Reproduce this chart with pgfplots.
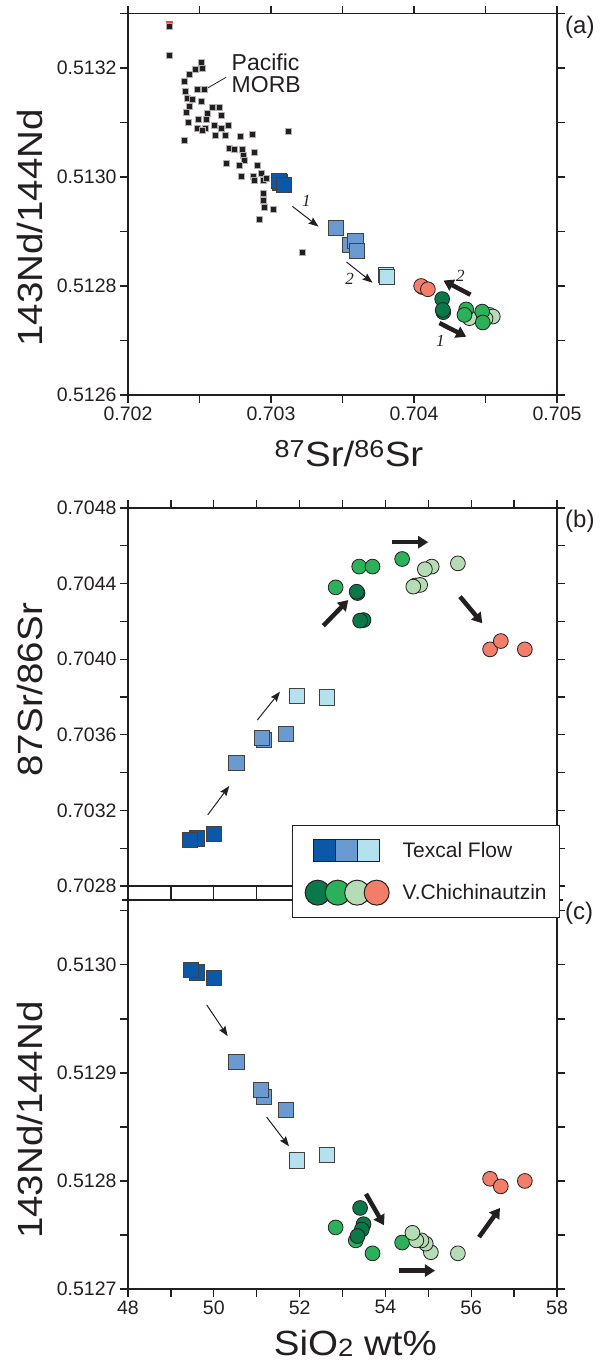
\documentclass[border=0pt]{standalone}
\usepackage{pgfplots}
\pgfplotsset{compat=1.18}
\usetikzlibrary{arrows.meta}
\usepackage{fontspec}
\setmainfont{Liberation Sans}
\newfontfamily\annfont{Liberation Serif}
\newfontfamily\labfont{Liberation Sans}[FakeStretch=1.1]

\definecolor{ink}{HTML}{231F20}
\definecolor{tfdark}{HTML}{0B57A8}
\definecolor{tfmid}{HTML}{6A9AD0}
\definecolor{tflight}{HTML}{B3E1EE}
\definecolor{vcdark}{HTML}{0A7848}
\definecolor{vcmid}{HTML}{2DB05A}
\definecolor{vclight}{HTML}{B6DCB5}
\definecolor{vcsalmon}{HTML}{F27D69}

\pgfplotsset{
  panel/.style={
    scale only axis, width=429bp, clip=false, scaled ticks=false,
    axis line style={line width=1.3bp, draw=ink},
    every tick/.style={line width=1.3bp, draw=ink},
    major tick length=8bp, minor tick length=8bp, tick align=outside,
    tick label style={font=\fontsize{19.5bp}{23bp}\selectfont, text=ink},
    label style={font=\labfont\fontsize{35bp}{40bp}\selectfont, text=ink},
  },
  morb/.style={only marks, mark=square*, mark size=3bp, draw=gray!60, fill=ink, line width=0.6bp, forget plot},
  tf/.style={only marks, mark=square*, mark size=7.6bp, draw=ink!85, line width=0.9bp, forget plot},
  vc/.style={only marks, mark=*, mark size=7.4bp, draw=ink, line width=0.8bp, forget plot},
}
\tikzset{
  thinarrow/.style={draw=ink, line width=1bp, -{Stealth[length=10bp,width=7.5bp,inset=1.5bp]}},
  thickarrow/.style={draw=ink, line width=4.5bp, -{Triangle[length=10bp,width=12bp]}},
  num/.style={font=\annfont\itshape\fontsize{17bp}{20bp}\selectfont, text=ink},
  tag/.style={font=\fontsize{24bp}{28bp}\selectfont, text=ink, anchor=north west, inner sep=0pt},
}
\newcommand{\tl}[1]{\textnormal{#1}}
% frame edges that run a little past each corner
\newcommand{\spines}{%
  \draw[ink, line width=1.3bp]
    ([xshift=-6bp]rel axis cs:0,0) -- ([xshift=6bp]rel axis cs:1,0)
    ([xshift=-6bp]rel axis cs:0,1) -- ([xshift=6bp]rel axis cs:1,1)
    ([yshift=-6bp]rel axis cs:0,0) -- ([yshift=6bp]rel axis cs:0,1)
    ([yshift=-6bp]rel axis cs:1,0) -- ([yshift=6bp]rel axis cs:1,1);}

\begin{document}
\begin{tikzpicture}
\path[use as bounding box] (0,0) rectangle (610bp,1366bp);

% ---------------- (a) Nd vs Sr isotopes ----------------
\begin{axis}[panel, at={(128bp,971bp)}, anchor=south west, height=381.5bp,
  xmin=0.702, xmax=0.705, ymin=0.5126, ymax=0.5133,
  xtick={0.702,0.703,0.704,0.705},
  xticklabels={\tl{0.702},\tl{0.703},\tl{0.704},\tl{0.705}},
  minor xtick={0.7025,0.7035,0.7045},
  ytick={0.5126,0.5128,0.5130,0.5132},
  yticklabels={\tl{0.5126},\tl{0.5128},\tl{0.5130},\tl{0.5132}},
  minor ytick={0.5127,0.5129,0.5131,0.5133},
  xlabel={\textsuperscript{87}Sr/\textsuperscript{86}Sr},
  ylabel={143Nd/144Nd},
  xlabel style={at={(rel axis cs:0.515,-0.188)}, anchor=base},
  ylabel style={at={(rel axis cs:-0.2284,0.438)}, anchor=center},
]
\spines
% Pacific MORB field
\addplot[morb, draw=red!75, fill=red!75] coordinates {(0.702290,0.513280)};
\addplot[morb] coordinates {
(0.702290,0.513276) (0.702290,0.513224) (0.702512,0.513210) (0.702472,0.513198)
(0.702523,0.513200) (0.702430,0.513189) (0.702395,0.513175) (0.702535,0.513161)
(0.702488,0.513160) (0.702402,0.513158) (0.702418,0.513144) (0.702449,0.513143)
(0.702512,0.513138) (0.702430,0.513130) (0.702589,0.513128) (0.702640,0.513127)
(0.702407,0.513119) (0.702558,0.513116) (0.702652,0.513114) (0.702493,0.513106)
(0.702551,0.513105) (0.702423,0.513100) (0.702703,0.513095) (0.702484,0.513089)
(0.702542,0.513090) (0.702605,0.513094) (0.702652,0.513089) (0.702523,0.513085)
(0.702395,0.513067) (0.702610,0.513077) (0.702682,0.513077) (0.702785,0.513074)
(0.702868,0.513078) (0.703118,0.513083) (0.702710,0.513053) (0.702745,0.513050)
(0.702799,0.513051) (0.702885,0.513045) (0.702803,0.513040) (0.702815,0.513031)
(0.702687,0.513026) (0.702775,0.513022) (0.702903,0.513022) (0.702792,0.513001)
(0.702873,0.513002) (0.702931,0.513007) (0.702885,0.512994) (0.702943,0.512994)
(0.702966,0.512998) (0.702948,0.512970) (0.702948,0.512958) (0.702955,0.512944)
(0.703013,0.512941) (0.702920,0.512923) (0.703218,0.512861)
};
% Texcal Flow
\addplot[tf, fill=tfdark] coordinates {(0.703062,0.512990) (0.703055,0.512992) (0.703088,0.512986)};
\addplot[tf, fill=tfmid] coordinates {(0.703456,0.512907) (0.703550,0.512875) (0.703591,0.512883) (0.703600,0.512865)};
\addplot[tf, fill=tflight] coordinates {(0.703806,0.512820) (0.703813,0.512816)};
% V. Chichinautzin
\addplot[vc, fill=vclight] coordinates {(0.704528,0.512747) (0.704551,0.512744) (0.704388,0.512741) (0.704500,0.512740)};
\addplot[vc, fill=vcmid] coordinates {(0.704365,0.512757) (0.704353,0.512747) (0.704477,0.512753) (0.704481,0.512733)};
\addplot[vc, fill=vcdark] coordinates {(0.704205,0.512752) (0.704197,0.512776) (0.704201,0.512756)};
\addplot[vc, fill=vcsalmon] coordinates {(0.704060,0.512798) (0.704050,0.512800) (0.704097,0.512794)};

\draw[draw=ink, line width=0.8bp] (axis cs:0.702687,0.513183) -- (axis cs:0.702542,0.513161);
\node[anchor=north west, inner sep=0pt, align=left, text=ink,
      font=\fontsize{23bp}{21.5bp}\selectfont] at (axis cs:0.702724,0.513226) {Pacific\\MORB};
\draw[thinarrow] (axis cs:0.703150,0.512946) -- (axis cs:0.703332,0.512909);
\node[num] at (axis cs:0.703248,0.512956) {1};
\draw[thinarrow] (axis cs:0.703528,0.512844) -- (axis cs:0.703710,0.512806);
\node[num] at (axis cs:0.703550,0.512813) {2};
\draw[thickarrow] (axis cs:0.704395,0.512784) -- (axis cs:0.704206,0.512810);
\node[num] at (axis cs:0.704325,0.512819) {2};
\draw[thickarrow] (axis cs:0.704178,0.512732) -- (axis cs:0.704365,0.512707);
\node[num] at (axis cs:0.704185,0.512699) {1};
\node[tag] at (rel axis cs:1,1) [xshift=8bp, yshift=-2bp] {(a)};
\end{axis}

% ---------------- (b) Sr isotopes vs SiO2 ----------------
\begin{axis}[panel, at={(128bp,480bp)}, anchor=south west, height=378bp,
  xmin=48, xmax=58, ymin=0.7028, ymax=0.7048,
  xtick={48,50,52,54,56,58}, xticklabel=\empty,
  minor xtick={49,51,53,55,57},
  ytick={0.7028,0.7032,0.7036,0.7040,0.7044,0.7048},
  yticklabels={\tl{0.7028},\tl{0.7032},\tl{0.7036},\tl{0.7040},\tl{0.7044},\tl{0.7048}},
  minor ytick={0.7030,0.7034,0.7038,0.7042,0.7046},
  ylabel={87Sr/86Sr},
  ylabel style={at={(rel axis cs:-0.2284,0.519)}, anchor=center},
]
\spines
\addplot[tf, fill=tfdark] coordinates {(49.60,0.703052) (49.445,0.703043) (50.00,0.703075)};
\addplot[tf, fill=tfmid] coordinates {(50.53,0.703449) (51.17,0.703572) (51.12,0.703585) (51.68,0.703603)};
\addplot[tf, fill=tflight] coordinates {(51.93,0.703805) (52.63,0.703798)};
\addplot[vc, fill=vcmid] coordinates {(52.84,0.704380) (53.39,0.704490) (53.70,0.704490) (54.39,0.704530)};
\addplot[vc, fill=vcdark] coordinates {(53.35,0.704350) (53.33,0.704357) (53.49,0.704207) (53.41,0.704204)};
\addplot[vc, fill=vclight] coordinates {(55.08,0.704490) (54.92,0.704476) (55.69,0.704507) (54.70,0.704390) (54.81,0.704393) (54.65,0.704384)};
\addplot[vc, fill=vcsalmon] coordinates {(56.44,0.704052) (56.69,0.704096) (57.25,0.704052)};

\draw[thinarrow] (axis cs:49.858,0.703176) -- (axis cs:50.360,0.703329);
\draw[thinarrow] (axis cs:51.014,0.703678) -- (axis cs:51.543,0.703828);
\draw[thickarrow] (axis cs:52.553,0.704177) -- (axis cs:53.135,0.704313);
\draw[thickarrow] (axis cs:54.161,0.704619) -- (axis cs:54.998,0.704619);
\draw[thickarrow] (axis cs:55.739,0.704331) -- (axis cs:56.259,0.704190);
\node[tag] at (rel axis cs:1,1) [xshift=8bp, yshift=-2bp] {(b)};
\end{axis}

% ---------------- (c) Nd isotopes vs SiO2 ----------------
\begin{axis}[panel, at={(128bp,77bp)}, anchor=south west, height=389bp,
  xmin=48, xmax=58, ymin=0.5127, ymax=0.51306,
  xtick={48,50,52,54,56,58},
  xticklabels={\tl{48},\tl{50},\tl{52},\tl{54},\tl{56},\tl{58}},
  minor xtick={49,51,53,55,57},
  ytick={0.5127,0.5128,0.5129,0.5130},
  yticklabels={\tl{0.5127},\tl{0.5128},\tl{0.5129},\tl{0.5130}},
  minor ytick={0.51275,0.51285,0.51295,0.51305},
  xlabel={SiO\raisebox{-1.5bp}{\fontsize{25bp}{25bp}\selectfont 2} wt\%},
  ylabel={143Nd/144Nd},
  xlabel style={at={(rel axis cs:0.53,-0.170)}, anchor=base},
  ylabel style={at={(rel axis cs:-0.2284,0.434)}, anchor=center},
  legend cell align=left,
  legend style={at={(0.3823,1.1928)}, anchor=north west, draw=ink, line width=1.3bp,
    fill=white, font=\fontsize{21bp}{25bp}\selectfont, text=ink,
    inner xsep=12bp, inner ysep=12bp, row sep=17bp, column sep=12bp,
    nodes={inner sep=1bp}},
]
\spines
\addlegendimage{legend image code/.code={
  \path[draw=none, fill=none] (0bp,-12.5bp) rectangle (84bp,12.5bp);
  \filldraw[fill=tfdark, draw=ink, line width=1bp] (8bp,-11bp) rectangle (30bp,11bp);
  \filldraw[fill=tfmid, draw=ink, line width=1bp] (30bp,-11bp) rectangle (52bp,11bp);
  \filldraw[fill=tflight, draw=ink, line width=1bp] (52bp,-11bp) rectangle (74bp,11bp);
}}
\addlegendentry{Texcal Flow}
\addlegendimage{legend image code/.code={
  \path[draw=none, fill=none] (0bp,-12.5bp) rectangle (84bp,12.5bp);
  \filldraw[fill=vcdark, draw=ink, line width=1bp] (12.5bp,0bp) circle[radius=12.5bp];
  \filldraw[fill=vcmid, draw=ink, line width=1bp] (32.5bp,0bp) circle[radius=12.5bp];
  \filldraw[fill=vclight, draw=ink, line width=1bp] (52bp,0bp) circle[radius=12.5bp];
  \filldraw[fill=vcsalmon, draw=ink, line width=1bp] (71.5bp,0bp) circle[radius=12.5bp];
}}
\addlegendentry{V.Chichinautzin}

\addplot[tf, fill=tfdark] coordinates {(49.60,0.512993) (49.46,0.512995) (50.00,0.512988)};
\addplot[tf, fill=tfmid] coordinates {(50.53,0.512910) (51.17,0.512878) (51.10,0.512884) (51.68,0.512866)};
\addplot[tf, fill=tflight] coordinates {(51.93,0.512819) (52.63,0.512824)};
\addplot[vc, fill=vcmid] coordinates {(52.84,0.512757) (53.31,0.512745) (53.70,0.512733) (54.39,0.512743)};
\addplot[vc, fill=vcdark] coordinates {(53.41,0.512775) (53.49,0.512760) (53.45,0.512755) (53.35,0.512749)};
\addplot[vc, fill=vclight] coordinates {(55.69,0.512733) (55.06,0.512734) (54.94,0.512742) (54.84,0.512745) (54.72,0.512745) (54.63,0.512752)};
\addplot[vc, fill=vcsalmon] coordinates {(56.44,0.512802) (56.69,0.512795) (57.25,0.512800)};

\draw[thinarrow] (axis cs:49.834,0.512963) -- (axis cs:50.324,0.512934);
\draw[thinarrow] (axis cs:51.233,0.512859) -- (axis cs:51.753,0.512832);
\draw[thickarrow] (axis cs:53.548,0.512788) -- (axis cs:53.967,0.512759);
\draw[thickarrow] (axis cs:54.324,0.512717) -- (axis cs:55.156,0.512717);
\draw[thickarrow] (axis cs:56.182,0.512748) -- (axis cs:56.671,0.512775);
\node[tag] at (rel axis cs:1,1) [xshift=8bp, yshift=-2bp] {(c)};
\end{axis}
\end{tikzpicture}
\end{document}
